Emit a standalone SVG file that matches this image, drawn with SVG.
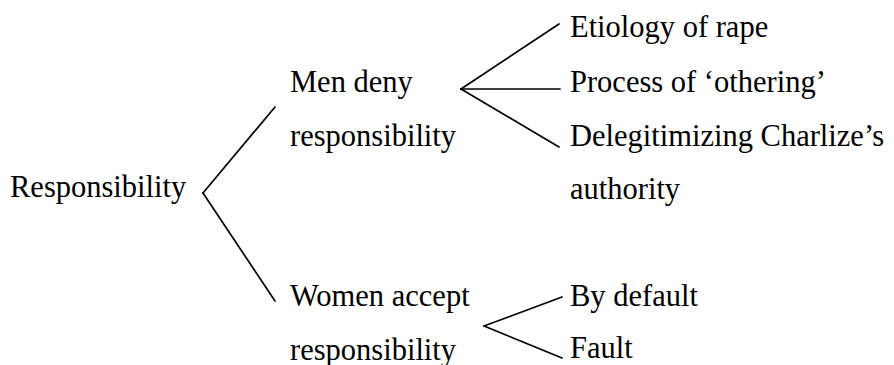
<svg xmlns="http://www.w3.org/2000/svg" width="894" height="365" viewBox="0 0 894 365">
<style>
text{font-family:'Liberation Serif','Times New Roman',serif;font-size:30.5px;fill:#000}
.c line{stroke:#000;stroke-width:1.7;stroke-linecap:round}
</style>
<rect width="894" height="365" fill="#fff"/>
<g id="n-root"><text x="10" y="197">Responsibility</text></g>
<g id="n-men"><text x="290" y="92">Men deny</text><text x="290" y="146">responsibility</text></g>
<g id="n-women"><text x="290" y="306">Women accept</text><text x="290" y="360">responsibility</text></g>
<g id="n-etiology"><text x="570" y="37">Etiology of rape</text></g>
<g id="n-othering"><text x="570" y="92">Process of ‘othering’</text></g>
<g id="n-deleg"><text x="570" y="146">Delegitimizing Charlize’s</text><text x="570" y="199">authority</text></g>
<g id="n-default"><text x="570" y="306">By default</text></g>
<g id="n-fault"><text x="570" y="358">Fault</text></g>
<g class="c" id="connectors">
<line x1="203" y1="193" x2="275" y2="107"/>
<line x1="203" y1="193" x2="275" y2="301"/>
<line x1="461" y1="89" x2="559" y2="24"/>
<line x1="461" y1="89" x2="560" y2="89"/>
<line x1="461" y1="89" x2="559" y2="147"/>
<line x1="484" y1="326" x2="562" y2="297"/>
<line x1="484" y1="326" x2="562" y2="358"/>
</g>
</svg>
